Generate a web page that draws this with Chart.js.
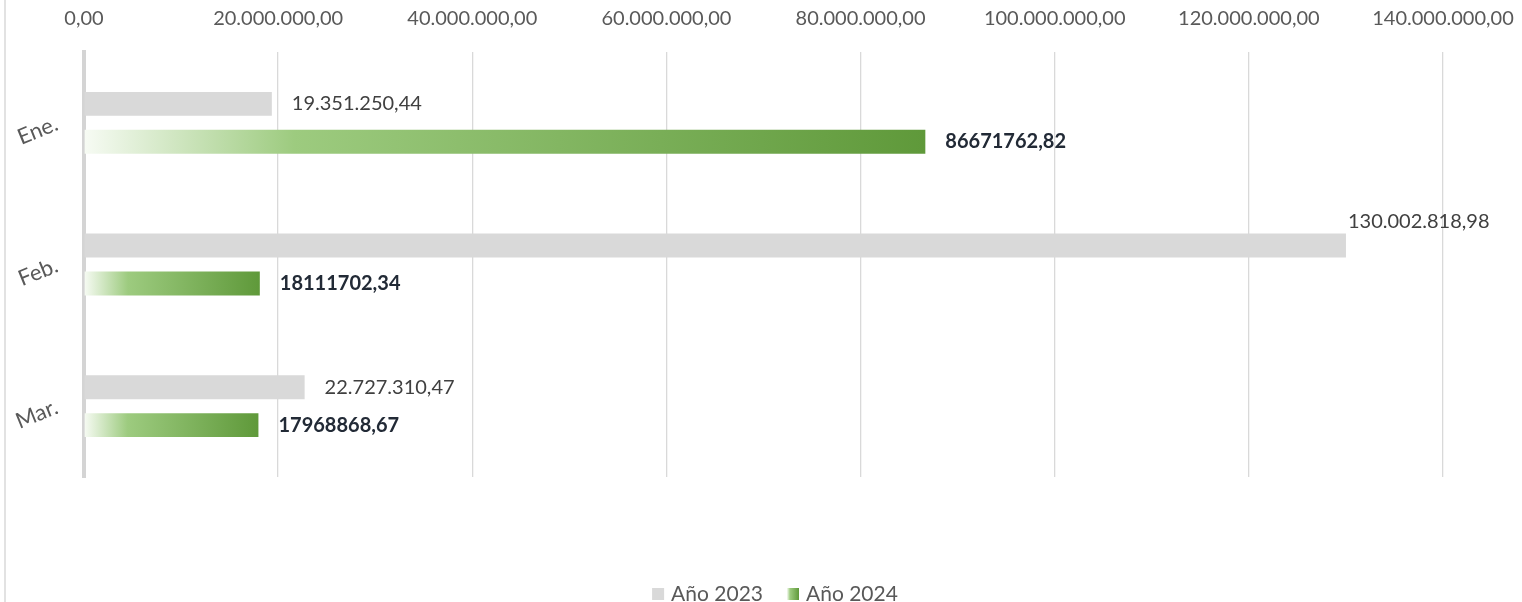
<!DOCTYPE html>
<html>
<head>
<meta charset="utf-8">
<script src="https://cdn.jsdelivr.net/npm/chart.js@4.4.1/dist/chart.umd.min.js"></script>
<style>
  html, body { margin: 0; padding: 0; background: #fff; }
  #wrap { position: relative; width: 1522px; height: 602px; overflow: hidden; }
  #box { position: absolute; left: 0; top: 0; width: 1522px; height: 614px; }
</style>
</head>
<body>
<div id="wrap"><div id="box"><canvas id="barChart"></canvas></div></div>
<script>
const months = ['Ene.', 'Feb.', 'Mar.'];
const seriesNames = ['Año 2023', 'Año 2024'];
const values2023 = [19351250.44, 130002818.98, 22727310.47];
const values2024 = [86671762.82, 18111702.34, 17968868.67];
const axisMax = 140000000;
const axisStep = 20000000;

const FONT = 'Lato, "Open Sans", sans-serif';

// 1.234.567,89 style (grouped) or 1234567,89 (plain)
function fmtNum(v, grouped) {
  const parts = v.toFixed(2).split('.');
  let i = parts[0];
  if (grouped) i = i.replace(/\B(?=(\d{3})+(?!\d))/g, '.');
  return i + ',' + parts[1];
}

function greenGradient(ctx, x0, x1) {
  const g = ctx.createLinearGradient(x0, 0, x1, 0);
  g.addColorStop(0, '#f7fbf4');
  g.addColorStop(0.25, '#9dcb7f');
  g.addColorStop(1, '#5f993a');
  return g;
}

const valueLabels = {
  id: 'valueLabels',
  afterDatasetsDraw(chart) {
    const ctx = chart.ctx;
    const area = chart.chartArea;
    ctx.save();
    ctx.textBaseline = 'middle';
    ctx.textAlign = 'left';
    chart.data.datasets.forEach((ds, di) => {
      const meta = chart.getDatasetMeta(di);
      meta.data.forEach((bar, i) => {
        const v = ds.data[i];
        let text, x, y = bar.y;
        if (di === 0) {
          ctx.font = '20px ' + FONT;
          ctx.fillStyle = '#404040';
          text = fmtNum(v, true);
        } else {
          ctx.font = 'bold 20px ' + FONT;
          ctx.fillStyle = '#222a36';
          text = fmtNum(v, false);
        }
        x = bar.x + 20;
        if (x + ctx.measureText(text).width > area.right) {
          x = bar.x + 2;
          y = bar.y - bar.height;
        }
        ctx.fillText(text, x, y);
      });
    });
    ctx.restore();
  }
};

// frame line on the left + legend at the bottom (clipped by the window like the original)
const decor = {
  id: 'decor',
  beforeDraw(chart) {
    const ctx = chart.ctx;
    ctx.save();
    ctx.strokeStyle = '#d9d9d9';
    ctx.lineWidth = 1.5;
    ctx.beginPath();
    ctx.moveTo(5, 0);
    ctx.lineTo(5, chart.height);
    ctx.stroke();
    ctx.restore();
  },
  afterDraw(chart) {
    const ctx = chart.ctx;
    const font = '21px ' + FONT;
    const box = 12, gapText = 7, gapItem = 24;
    const centerX = 775, y = 594;
    ctx.save();
    ctx.font = font;
    ctx.textBaseline = 'middle';
    ctx.textAlign = 'left';
    const widths = chart.data.datasets.map(ds => ctx.measureText(ds.label).width);
    let total = 0;
    widths.forEach((w, i) => { total += box + gapText + w + (i ? gapItem : 0); });
    let x = centerX - total / 2;
    chart.data.datasets.forEach((ds, i) => {
      ctx.fillStyle = i === 0 ? '#d9d9d9' : greenGradient(ctx, x, x + box);
      ctx.fillRect(x, y - box / 2, box, box);
      ctx.fillStyle = '#595959';
      ctx.fillText(ds.label, x + box + gapText, y);
      x += box + gapText + widths[i] + gapItem;
    });
    ctx.restore();
  }
};

const barChart = document.getElementById('barChart');

new Chart(barChart, {
  type: 'bar',
  data: {
    labels: months,
    datasets: [
      {
        label: seriesNames[0],
        data: values2023,
        backgroundColor: '#d9d9d9'
      },
      {
        label: seriesNames[1],
        data: values2024,
        backgroundColor: (c) => {
          const chart = c.chart;
          if (c.type !== 'data' || !chart.chartArea) return '#7fb05a';
          const xs = chart.scales.x;
          return greenGradient(chart.ctx, xs.getPixelForValue(0), xs.getPixelForValue(c.parsed.x));
        }
      }
    ]
  },
  options: {
    indexAxis: 'y',
    responsive: true,
    maintainAspectRatio: false,
    animation: false,
    categoryPercentage: 0.536,
    barPercentage: 0.63,
    layout: { padding: { left: 0, right: 79, top: 0, bottom: 137 } },
    scales: {
      x: {
        position: 'top',
        min: 0,
        max: axisMax,
        afterFit: (s) => { s.height = 52; s.paddingRight = 79; },
        ticks: {
          stepSize: axisStep,
          color: '#595959',
          font: { family: FONT, size: 20 },
          padding: 21,
          callback: (v) => fmtNum(v, true)
        },
        grid: { color: '#d9d9d9', lineWidth: 1.3, drawTicks: false },
        border: { display: false }
      },
      y: {
        afterFit: (s) => { s.width = 84; },
        ticks: {
          color: '#595959',
          font: { family: FONT, size: 22 },
          minRotation: 22,
          maxRotation: 22,
          padding: 27
        },
        grid: { display: false, drawTicks: false },
        border: { display: true, color: '#d4d4d4', width: 4 }
      }
    },
    plugins: {
      tooltip: { enabled: false },
      legend: { display: false }
    }
  },
  plugins: [valueLabels, decor]
});
</script>
</body>
</html>
